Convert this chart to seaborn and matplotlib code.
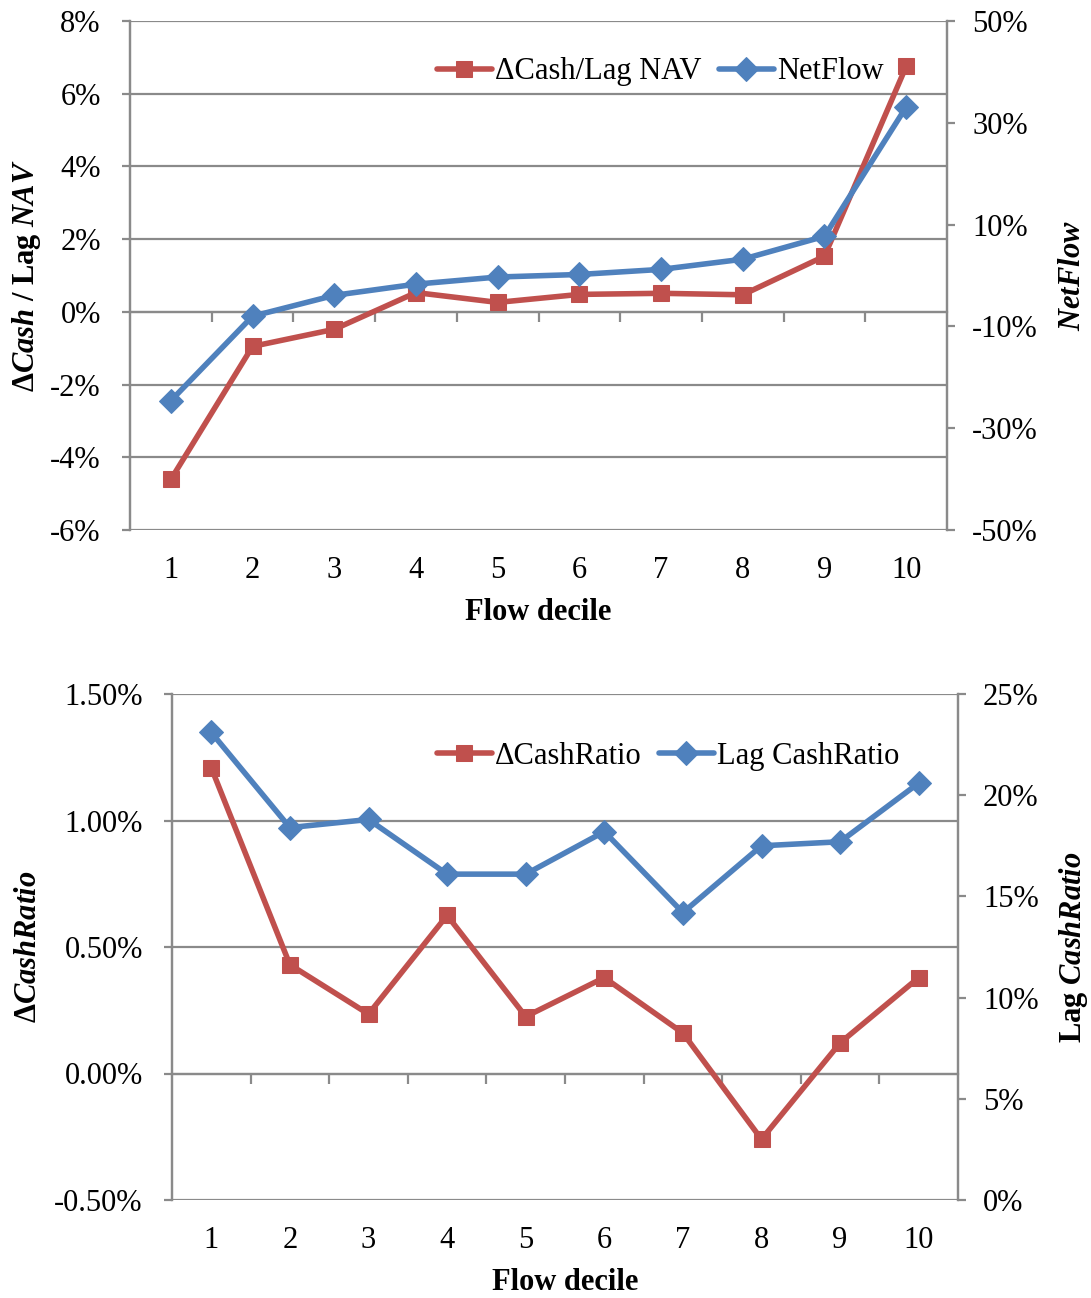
import matplotlib
matplotlib.use('Agg')
import matplotlib.pyplot as plt
import seaborn as sns
from matplotlib.ticker import FuncFormatter, MultipleLocator, FixedLocator

deciles = [1, 2, 3, 4, 5, 6, 7, 8, 9, 10]
dcash_lag_nav = [-4.61, -0.95, -0.48, 0.53, 0.26, 0.48, 0.51, 0.47, 1.53, 6.75]
netflow = [-24.6, -8.0, -3.9, -1.7, -0.3, 0.2, 1.2, 3.2, 7.7, 33.1]
dcash_ratio = [1.208, 0.430, 0.235, 0.625, 0.225, 0.379, 0.160, -0.260, 0.121, 0.379]
lag_cash_ratio = [23.1, 18.4, 18.8, 16.1, 16.1, 18.2, 14.2, 17.5, 17.7, 20.6]

sns.set_style('white')
plt.rcParams['font.family'] = ['Liberation Serif', 'DejaVu Serif']
plt.rcParams['mathtext.fontset'] = 'custom'
plt.rcParams['mathtext.rm'] = 'Liberation Serif'
plt.rcParams['mathtext.bf'] = 'Liberation Serif:bold'
plt.rcParams['mathtext.it'] = 'Liberation Serif:italic'
plt.rcParams['mathtext.bfit'] = 'Liberation Serif:italic:bold'
for k in ('text.color', 'axes.labelcolor', 'xtick.color', 'ytick.color'):
    plt.rcParams[k] = 'black'

RED = '#C0504D'
BLUE = '#4F81BD'
GRID = '#8A8A8A'
FS = 22

fig = plt.figure(figsize=(10.91, 12.98), dpi=100)


def panel(rect, left_y, right_y, left_lim, right_lim, left_step, right_ticks,
          left_fmt, right_fmt, left_lab, right_lab, names, leg_anchor, lab_x):
    ax = fig.add_axes(rect)
    ax2 = ax.twinx()
    sns.lineplot(x=deciles, y=left_y, ax=ax, color=RED, marker='s', markersize=12,
                 markeredgecolor=RED, linewidth=4, label=names[0])
    sns.lineplot(x=deciles, y=right_y, ax=ax2, color=BLUE, marker='D', markersize=12,
                 markeredgecolor=BLUE, linewidth=4, label=names[1])
    ax.set_xlim(0.5, 10.5)
    ax.set_ylim(*left_lim)
    ax2.set_ylim(*right_lim)
    ax.yaxis.set_major_locator(MultipleLocator(left_step))
    ax.yaxis.set_major_formatter(FuncFormatter(left_fmt))
    ax2.yaxis.set_major_locator(FixedLocator(right_ticks))
    ax2.yaxis.set_major_formatter(FuncFormatter(right_fmt))
    ax.set_xticks(deciles)
    ax.grid(axis='y', color=GRID, linewidth=1.6)
    ax.grid(axis='x', visible=False)
    ax2.grid(False)
    for a in (ax, ax2):
        for s in ('top', 'bottom'):
            a.spines[s].set_visible(False)
        for s in ('left', 'right'):
            a.spines[s].set_color(GRID)
            a.spines[s].set_linewidth(1.6)
    ax.tick_params(axis='x', length=0, pad=19, labelsize=FS, labelcolor='black')
    ax.tick_params(axis='y', direction='out', length=6, width=1.6, color=GRID,
                   labelsize=FS, pad=15, left=True, labelcolor='black')
    ax2.tick_params(axis='y', direction='out', length=6, width=1.6, color=GRID,
                    labelsize=FS, pad=12, right=True, labelcolor='black')
    # category axis line at zero with boundary ticks
    frac = (0 - left_lim[0]) / (left_lim[1] - left_lim[0])
    sec = ax.secondary_xaxis(frac)
    sec.set_xticks([d + 0.5 for d in deciles[:-1]])
    sec.tick_params(axis='x', direction='out', length=7, width=1.6, color=GRID,
                    labelbottom=False)
    sec.spines['bottom'].set_color(GRID)
    sec.spines['bottom'].set_linewidth(1.6)
    ax.set_xlabel('Flow decile', fontsize=FS, fontweight='bold', labelpad=9)
    ax.set_ylabel(left_lab, fontsize=FS, fontweight='bold')
    ax2.set_ylabel(right_lab, fontsize=FS, fontweight='bold')
    ax.yaxis.set_label_coords(lab_x[0], 0.5)
    ax2.yaxis.set_label_coords(lab_x[1], 0.5)
    ax.yaxis.label.set_va('center')
    ax2.yaxis.label.set_va('center')
    ax2.yaxis.label.set_rotation(90)
    ax.get_legend().remove()
    ax2.get_legend().remove()
    h1, l1 = ax.get_legend_handles_labels()
    h2, l2 = ax2.get_legend_handles_labels()
    ax2.legend(h1 + h2, l1 + l2, loc='center right', bbox_to_anchor=leg_anchor,
               ncol=2, frameon=False, fontsize=FS, handlelength=1.8,
               handletextpad=0.12, columnspacing=0.55, borderpad=0, borderaxespad=0)
    return ax, ax2


panel([130 / 1091, 1 - 530 / 1298, 817 / 1091, 509 / 1298],
      dcash_lag_nav, netflow, (-6, 8), (-50, 50), 2, [-50, -30, -10, 10, 30, 50],
      lambda v, p: f'{v:.0f}%', lambda v, p: f'{v:.0f}%',
      r'Δ$\mathbfit{Cash}$ / Lag $\mathbfit{NAV}$', r'$\mathbfit{NetFlow}$',
      ['ΔCash/Lag NAV', 'NetFlow'], (0.923, 0.9), ((27 - 130) / 817, (1072 - 130) / 817))

panel([172 / 1091, 1 - 1200 / 1298, 786 / 1091, 506 / 1298],
      dcash_ratio, lag_cash_ratio, (-0.5, 1.5), (0, 25), 0.5, [0, 5, 10, 15, 20, 25],
      lambda v, p: f'{v:.2f}%', lambda v, p: f'{v:.0f}%',
      r'Δ$\mathbfit{CashRatio}$', r'Lag $\mathbfit{CashRatio}$',
      ['ΔCashRatio', 'Lag CashRatio'], (0.926, 0.877), ((29 - 172) / 786, (1073 - 172) / 786))

plt.savefig('out.png', dpi=100)
